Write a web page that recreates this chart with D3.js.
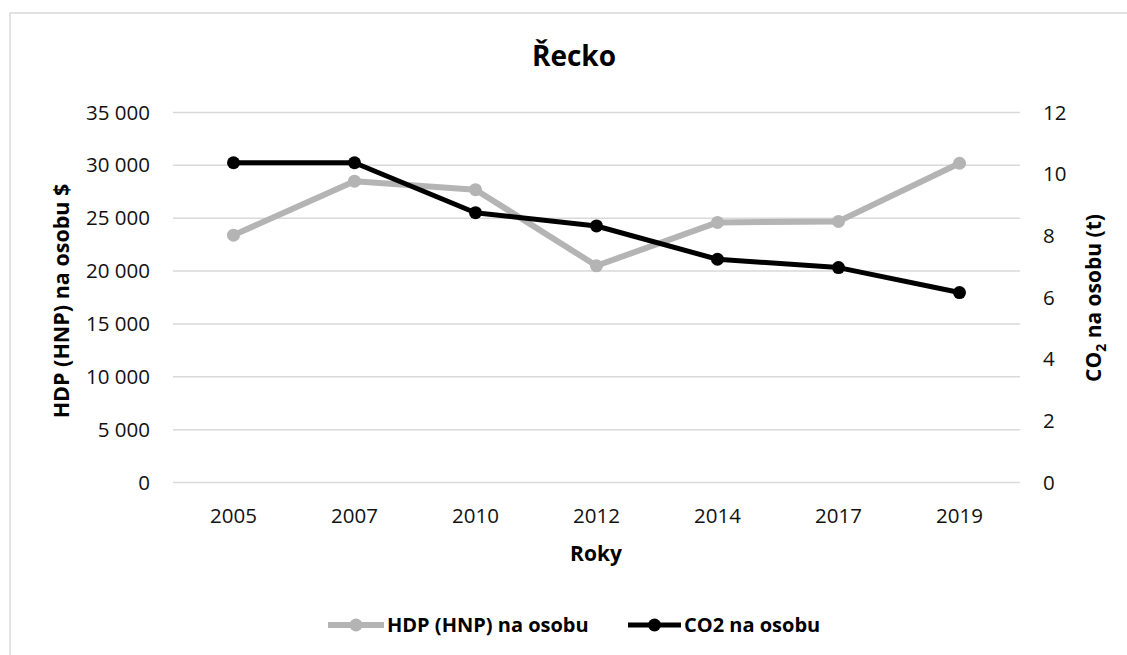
<!DOCTYPE html>
<meta charset="utf-8">
<style>
body{ margin:0; background:#fff; }
svg{ display:block; font-family:"Open Sans", Lato, sans-serif; }
.tick text{ fill:#111; }
</style>
<div id="chart"></div>
<script src="https://cdn.jsdelivr.net/npm/d3@7"></script>
<script>

var years = ['2005', '2007', '2010', '2012', '2014', '2017', '2019']
var gdp = [23400, 28500, 27700, 20500, 24600, 24700, 30200]
var co2 = [10.37, 10.37, 8.75, 8.32, 7.24, 6.97, 6.16]
var gdpTicks = [0, 5000, 10000, 15000, 20000, 25000, 30000, 35000]
var co2Ticks = [0, 2, 4, 6, 8, 10, 12]
var seriesNames = ['HDP (HNP) na osobu', 'CO2 na osobu']

var width = 1127, height = 655
var plotLeft = 173, plotRight = 1020, plotTop = 112.5, plotBottom = 482.5
var grey = '#b4b4b4', black = '#000'

var cz = d3.formatLocale({decimal: ',', thousands: ' ', grouping: [3], currency: ['', '']})
var fmt = cz.format(',')

var svg = d3.select('#chart').append('svg')
    .attr('width', width).attr('height', height)

// chart border (runs off right and bottom edges)
svg.append('rect')
    .attr('x', 10).attr('y', 13).attr('width', 1200).attr('height', 700)
    .attr('fill', 'none').attr('stroke', '#d9d9d9').attr('stroke-width', 1.5)

var x = d3.scaleBand().domain(years).range([plotLeft, plotRight])
var yL = d3.scaleLinear().domain([0, 35000]).range([plotBottom, plotTop])
var yR = d3.scaleLinear().domain([0, 12]).range([plotBottom, plotTop])
var cx = function(d, i){ return x(years[i]) + x.bandwidth() / 2 }

// gridlines
svg.append('g').selectAll('line')
    .data(gdpTicks)
  .enter().append('line')
    .attr('x1', plotLeft).attr('x2', plotRight)
    .attr('y1', function(d){ return yL(d) }).attr('y2', function(d){ return yL(d) })
    .attr('stroke', '#d9d9d9').attr('stroke-width', 1.5)

// axes
var gl = svg.append('g').attr('transform', 'translate(' + plotLeft + ',0)')
    .call(d3.axisLeft(yL).tickValues(gdpTicks).tickFormat(fmt).tickSize(0).tickPadding(23))
var gr = svg.append('g').attr('transform', 'translate(' + plotRight + ',0)')
    .call(d3.axisRight(yR).tickValues(co2Ticks).tickFormat(d3.format('d')).tickSize(0).tickPadding(23))
var gb = svg.append('g').attr('transform', 'translate(0,' + plotBottom + ')')
    .call(d3.axisBottom(x).tickSize(0).tickPadding(26))

;[gl, gr, gb].forEach(function(g){
  g.select('.domain').remove()
  g.selectAll('text').attr('font-size', 20.5).attr('font-family', '"Open Sans", sans-serif')
})

// series
var lineL = d3.line().x(cx).y(function(d){ return yL(d) })
var lineR = d3.line().x(cx).y(function(d){ return yR(d) })

svg.append('path').datum(gdp)
    .attr('d', lineL).attr('fill', 'none')
    .attr('stroke', grey).attr('stroke-width', 6).attr('stroke-linejoin', 'round')
svg.append('g').selectAll('circle').data(gdp)
  .enter().append('circle')
    .attr('cx', cx).attr('cy', function(d){ return yL(d) }).attr('r', 6.5)
    .attr('fill', grey)

svg.append('path').datum(co2)
    .attr('d', lineR).attr('fill', 'none')
    .attr('stroke', black).attr('stroke-width', 5).attr('stroke-linejoin', 'round')
svg.append('g').selectAll('circle').data(co2)
  .enter().append('circle')
    .attr('cx', cx).attr('cy', function(d){ return yR(d) }).attr('r', 6.5)
    .attr('fill', black)

// titles
svg.append('text')
    .attr('x', 574).attr('y', 66).attr('text-anchor', 'middle')
    .attr('font-size', 28).attr('font-weight', 700)
    .text('Řecko')

svg.append('text')
    .attr('x', 596).attr('y', 561).attr('text-anchor', 'middle')
    .attr('font-size', 21).attr('font-weight', 700)
    .text('Roky')

svg.append('text')
    .attr('transform', 'translate(69,301) rotate(-90)')
    .attr('text-anchor', 'middle')
    .attr('font-size', 21.5).attr('font-weight', 700)
    .text('HDP (HNP) na osobu $')

var rt = svg.append('text')
    .attr('transform', 'translate(1101,298) rotate(-90)')
    .attr('text-anchor', 'middle')
    .attr('font-size', 21).attr('font-weight', 700)
rt.append('tspan').text('CO')
rt.append('tspan').attr('font-size', 14).attr('dy', 5).text('2')
rt.append('tspan').attr('dy', -5).text(' na osobu (t)')

// legend
var legend = [
  {name: seriesNames[0], color: grey, w: 6, x1: 328, x2: 384},
  {name: seriesNames[1], color: black, w: 5, x1: 628, x2: 681}
]
var lg = svg.append('g').selectAll('g').data(legend).enter().append('g')
lg.append('line')
    .attr('x1', function(d){ return d.x1 }).attr('x2', function(d){ return d.x2 })
    .attr('y1', 625).attr('y2', 625)
    .attr('stroke', function(d){ return d.color }).attr('stroke-width', function(d){ return d.w })
lg.append('circle')
    .attr('cx', function(d){ return (d.x1 + d.x2) / 2 }).attr('cy', 625).attr('r', 6.5)
    .attr('fill', function(d){ return d.color })
lg.append('text')
    .attr('x', function(d){ return d.x2 + 3 }).attr('y', 632)
    .attr('font-size', 20).attr('font-weight', 700)
    .text(function(d){ return d.name })

</script>
